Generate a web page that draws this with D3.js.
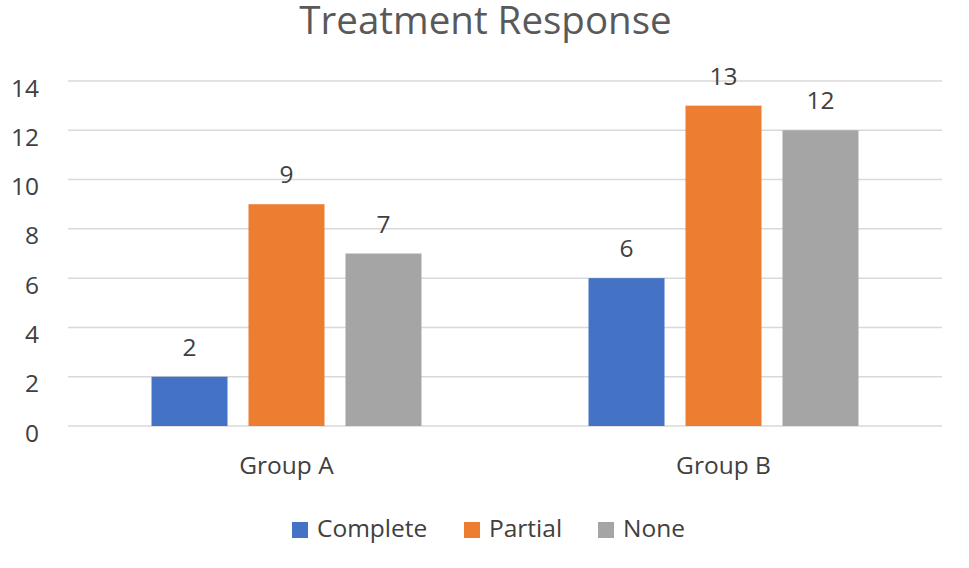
<!DOCTYPE html>
<html>
<head>
<meta charset="utf-8">
<script src="https://cdn.jsdelivr.net/npm/d3@7"></script>
<style>
  body { margin: 0; background: #fff; }
  text { font-family: "Open Sans", sans-serif; }
</style>
</head>
<body>
<div id="chart"></div>
<script>
const groups = ["Group A", "Group B"];
const series = ["Complete", "Partial", "None"];
const complete = [2, 6];
const partial = [9, 13];
const none = [7, 12];
const yTicks = [0, 2, 4, 6, 8, 10, 12, 14];
const colors = ["#4472C4", "#ED7D31", "#A5A5A5"];

const values = [complete, partial, none];
const rows = [];
groups.forEach((g, gi) => {
    series.forEach((s, si) => rows.push({ group: g, series: s, value: values[si][gi], color: colors[si] }));
});

const width = 969, height = 568;
const svg = d3.select("#chart")
    .append("svg")
        .attr("width", width)
        .attr("height", height);

const x0 = d3.scaleBand()
    .domain(groups)
    .range([68, 942]);

const x1 = d3.scaleBand()
    .domain(series)
    .range([0, x0.bandwidth()])
    .paddingInner(0.2165)
    .paddingOuter(0.861);

const y = d3.scaleLinear()
    .domain([0, 14])
    .range([426, 81]);

// gridlines
svg.append("g")
    .selectAll("line")
    .data(yTicks)
    .enter()
    .append("line")
        .attr("x1", 68)
        .attr("x2", 942)
        .attr("y1", (d) => y(d))
        .attr("y2", (d) => y(d))
        .attr("stroke", "#d9d9d9")
        .attr("stroke-width", 1.5);

// y axis labels
const yAxis = svg.append("g")
    .attr("transform", "translate(39, 0)")
    .call(d3.axisLeft(y).tickValues(yTicks).tickSize(0).tickPadding(0));
yAxis.select(".domain").remove();
yAxis.selectAll("text")
    .attr("dy", "15px")
    .attr("y", 0)
    .style("font-size", "24.5px")
    .style("font-family", "'Open Sans', sans-serif")
    .attr("fill", "#404040");

// bars
svg.append("g")
    .selectAll("rect")
    .data(rows)
    .enter()
    .append("rect")
        .attr("x", (d) => x0(d.group) + x1(d.series))
        .attr("y", (d) => y(d.value))
        .attr("width", x1.bandwidth())
        .attr("height", (d) => y(0) - y(d.value))
        .attr("fill", (d) => d.color);

// data labels
svg.append("g")
    .selectAll("text")
    .data(rows)
    .enter()
    .append("text")
        .attr("x", (d) => x0(d.group) + x1(d.series) + x1.bandwidth() / 2)
        .attr("y", (d) => y(d.value) - 21)
        .attr("text-anchor", "middle")
        .attr("font-size", "24.5px")
        .attr("fill", "#404040")
        .text((d) => d.value);

// x axis labels
const xAxis = svg.append("g")
    .attr("transform", "translate(0, 474)")
    .call(d3.axisBottom(x0).tickSize(0).tickPadding(0));
xAxis.select(".domain").remove();
xAxis.selectAll("text")
    .attr("dy", 0)
    .attr("y", 0)
    .style("font-size", "24.5px")
    .style("font-family", "'Open Sans', sans-serif")
    .attr("fill", "#404040");

// title
svg.append("text")
    .attr("x", 485.5)
    .attr("y", 34)
    .attr("text-anchor", "middle")
    .attr("font-size", "38.5px")
    .attr("fill", "#595959")
    .text("Treatment Response");

// legend
const legendX = [292, 464, 598];
const legend = svg.append("g")
    .selectAll("g")
    .data(series)
    .enter()
    .append("g")
        .attr("transform", (d, i) => `translate(${legendX[i]}, 522)`);

legend.append("rect")
    .attr("width", 16)
    .attr("height", 16)
    .attr("fill", (d, i) => colors[i]);

legend.append("text")
    .attr("x", 25)
    .attr("y", 15)
    .attr("font-size", "24.5px")
    .attr("fill", "#404040")
    .text((d) => d);
</script>
</body>
</html>
